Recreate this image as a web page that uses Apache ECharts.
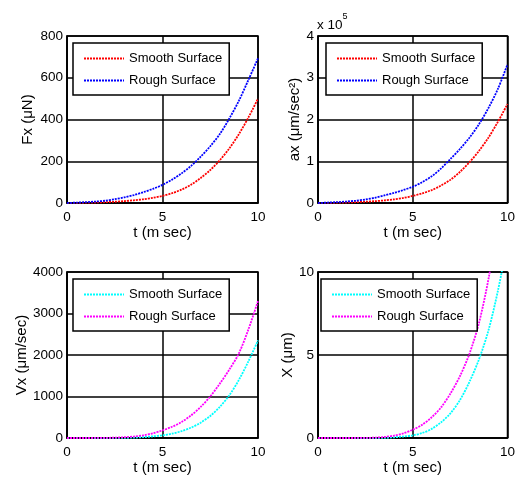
<!DOCTYPE html>
<html>
<head>
<meta charset="utf-8">
<script src="https://cdn.jsdelivr.net/npm/echarts@6/dist/echarts.min.js"></script>
<style>
html,body{margin:0;padding:0;background:#fff;}
#chart{width:518px;height:480px;}
</style>
</head>
<body>
<div id="chart"></div>
<script>
// time (m sec)
const t = [0,0.5,1,1.5,2,2.5,3,3.5,4,4.5,5,5.5,6,6.5,7,7.5,8,8.5,9,9.5,10];
// Fx (uN)
const fxSmooth = [0,0.5,1.5,2.5,4,6,9,13,18,25,34,47,64,88,120,158,205,262,330,410,500];
const fxRough  = [0,2,4,7,11,18,27,38,52,68,87,112,142,178,222,272,330,405,490,590,693];
// ax (x 10^5 um/sec^2)
const axSmooth = [0,0.003,0.007,0.012,0.02,0.03,0.043,0.062,0.086,0.12,0.17,0.23,0.31,0.42,0.56,0.75,0.98,1.25,1.57,1.95,2.37];
const axRough  = [0,0.01,0.02,0.035,0.055,0.085,0.125,0.18,0.24,0.31,0.39,0.5,0.64,0.83,1.06,1.3,1.57,1.89,2.28,2.74,3.32];
// Vx (um/sec)
const vxSmooth = [0,0,0,0,0,1,4,10,22,40,64,105,165,250,370,530,750,1030,1400,1850,2350];
const vxRough  = [0,0,0,1,3,8,18,35,65,115,184,270,385,545,750,1000,1310,1650,2040,2620,3300];
// X (um)
const xSmooth = [0,0,0,0,0,0,0,0.01,0.04,0.09,0.16,0.3,0.55,0.95,1.5,2.3,3.4,4.75,6.5,8.9,11.8];
const xRough  = [0,0,0,0,0.002,0.006,0.02,0.06,0.14,0.28,0.5,0.8,1.25,1.85,2.7,3.75,5.1,6.95,9.6,13,17];

const legendNames = ['Smooth Surface','Rough Surface'];
const xAxisTitle = 't (m sec)';
const yTitles = ['Fx (\u03BCN)','ax (\u03BCm/sec\u00B2)','Vx (\u03BCm/sec)','X (\u03BCm)'];
const yMax = [800,4,4000,10];
const yInterval = [200,1,1000,5];
const xTicks = {min:0,max:10,interval:5};

const FONT = 'Liberation Sans, Arial, Helvetica, sans-serif';
const pair = arr => t.map((v,i)=>[v,arr[i]]);

const grids = [
  {left:67, top:36, width:191, height:167},
  {left:318, top:36, width:192, height:167},
  {left:67, top:272, width:191, height:166},
  {left:318, top:272, width:192, height:166}
];
const yGaps = [32,15,37,22];
const colors = [['#ff0000','#0000ff'],['#ff0000','#0000ff'],['#00ffff','#ff00ff'],['#00ffff','#ff00ff']];
const dataSets = [[fxSmooth,fxRough],[axSmooth,axRough],[vxSmooth,vxRough],[xSmooth,xRough]];
const ids = ['fx','ax','vx','x'];

const option = {
  animation:false,
  textStyle:{fontFamily:FONT},
  grid: grids.map(g=>Object.assign({show:true,borderColor:'#000',borderWidth:1.5,backgroundColor:'#fff',containLabel:false},g)),
  xAxis: grids.map((g,i)=>({
    type:'value', gridIndex:i, min:xTicks.min, max:xTicks.max, interval:xTicks.interval,
    name:xAxisTitle, nameLocation:'middle', nameGap:22,
    nameTextStyle:{fontSize:15,color:'#000',fontFamily:FONT},
    axisLine:{show:true,lineStyle:{color:'#000',width:1.5}},
    axisTick:{show:false},
    axisLabel:{fontSize:13.5,color:'#000',margin:7,fontFamily:FONT,showMaxLabel:true,showMinLabel:true,formatter:v=>String(v)},
    splitLine:{show:true,lineStyle:{color:'#000',width:1.5}}
  })),
  yAxis: grids.map((g,i)=>({
    type:'value', gridIndex:i, min:0, max:yMax[i], interval:yInterval[i],
    name:yTitles[i], nameLocation:'middle', nameGap:yGaps[i], nameRotate:90,
    nameTextStyle:{fontSize:15,color:'#000',fontFamily:FONT},
    axisLine:{show:true,lineStyle:{color:'#000',width:1.5}},
    axisTick:{show:false},
    axisLabel:{fontSize:13.5,color:'#000',margin:4,fontFamily:FONT,formatter:v=>String(v)},
    splitLine:{show:true,lineStyle:{color:'#000',width:1.5}}
  })),
  legend: grids.map((g,i)=>({
    orient:'vertical',
    left: i%2===0 ? 73 : (i===1 ? 326 : 321),
    top: i<2 ? 43 : 279,
    data:[ids[i]+'S', ids[i]+'R'],
    formatter: name => name.endsWith('S') ? legendNames[0] : legendNames[1],
    backgroundColor:'#fff', borderColor:'#000', borderWidth:1.5,
    padding:[9,7,8,10], itemGap:9, itemWidth:40, itemHeight:12,
    itemStyle:{opacity:0},
    textStyle:{fontSize:13,color:'#000',fontFamily:FONT},
    selectedMode:false
  })),
  graphic:[{
    type:'text', left:317, top:12,
    style:{
      text:'{a|x 10}{b|5}',
      rich:{
        a:{fontSize:13.5,fontFamily:FONT,fill:'#000',verticalAlign:'bottom',lineHeight:20},
        b:{fontSize:9,fontFamily:FONT,fill:'#000',verticalAlign:'top',lineHeight:20}
      }
    }
  }],
  series: []
};
grids.forEach((g,i)=>{
  ['S','R'].forEach((k,j)=>{
    option.series.push({
      type:'line', name:ids[i]+k, xAxisIndex:i, yAxisIndex:i,
      data:pair(dataSets[i][j]), symbol:'none', smooth:0.3, clip:true,
      lineStyle:{color:colors[i][j], width:1.8, type:[2,1]},
      itemStyle:{color:colors[i][j]},
      emphasis:{disabled:true}
    });
  });
});
const chart = echarts.init(document.getElementById('chart'), null, {renderer:'canvas'});
chart.setOption(option);
</script>
</body>
</html>
